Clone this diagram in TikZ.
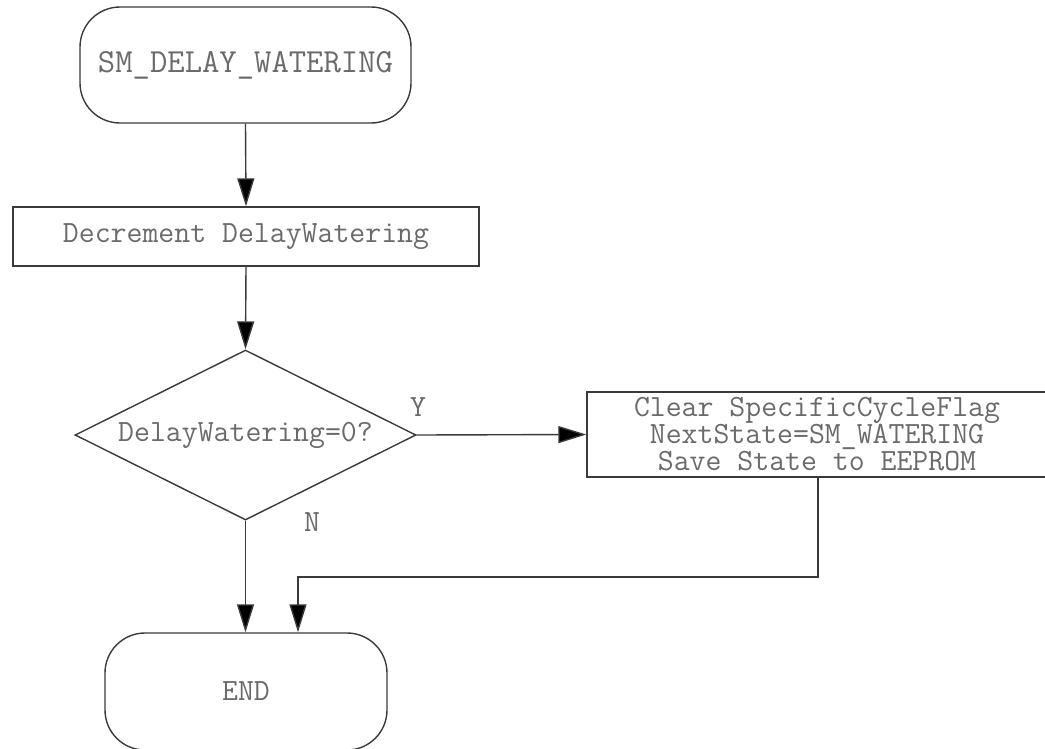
\documentclass[tikz,border=0pt]{standalone}
\usepackage{fontspec}
\usetikzlibrary{arrows.meta,shapes.geometric}
\definecolor{linec}{HTML}{3A3A3A}
\definecolor{textc}{HTML}{6A6A6A}
\begin{document}
\begin{tikzpicture}[x=1pt,y=-1pt,
  every node/.style={font=\ttfamily\fontsize{30.9}{27}\selectfont, text=textc},
  base/.style={draw=linec, line width=1.4pt, inner sep=0pt},
  term/.style={base, rounded corners=40pt},
  procbox/.style={base, rectangle},
  decis/.style={base, diamond},
  lbl/.style={inner sep=0pt},
  arr/.style={draw=linec, line width=1.4pt, -{Triangle[length=28pt,width=17pt,fill=black]}},
  conn/.style={draw=linec, line width=1.4pt}]
\useasboundingbox (0,0) rectangle (1045,748);
\node[term, minimum width=331pt, minimum height=116pt, font=\ttfamily\fontsize{33.7}{30}\selectfont] (start) at (245.5,65) {SM\_DELAY\_WATERING};
\node[procbox, minimum width=466pt, minimum height=59pt] (dec) at (246,236.5) {Decrement DelayWatering};
\node[decis, minimum width=341pt, minimum height=170pt, aspect=2] (cond) at (245.5,435) {DelayWatering=0?};
\node[procbox, minimum width=460pt, minimum height=85pt, align=center] (act) at (817,434.5) {Clear SpecificCycleFlag\\NextState=SM\_WATERING\\Save State to EEPROM};
\node[term, minimum width=282pt, minimum height=117pt] (endn) at (246,691.5) {END};
\node[lbl] (ylab) at (418,407) {Y};
\node[lbl] (nlab) at (312,522) {N};
\coordinate (c2) at (298,577);
\draw[arr] (start.south) -- (dec.north);
\draw[arr] (dec.south) -- (cond.north);
\draw[arr] (cond.east) -- (act.west);
\draw[arr] (cond.south) -- (cond.south |- endn.north);
\draw[arr] ([xshift=1pt]act.south) |- (c2) -- (c2 |- endn.north);
\end{tikzpicture}
\end{document}
